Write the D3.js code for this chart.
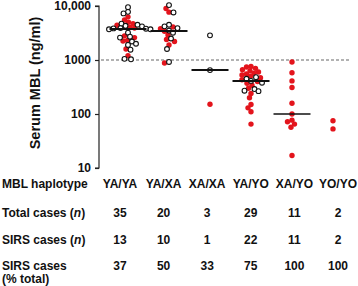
<!DOCTYPE html>
<html>
<head>
<meta charset="utf-8">
<script src="https://cdn.jsdelivr.net/npm/d3@7"></script>
<style>
  html, body { margin: 0; padding: 0; background: #fff; }
  svg { display: block; font-family: "Liberation Sans", Arial, Helvetica, sans-serif; }
</style>
</head>
<body>
<svg id="chart" width="358" height="286"></svg>
<script>
// ---------- data ----------
const categories = ["YA/YA", "YA/XA", "XA/XA", "YA/YO", "XA/YO", "YO/YO"];
// SIRS cases (red filled dots), serum MBL ng/ml
const sirsValues = [
  [6300, 5500, 5000, 4700, 4400, 4000, 3900, 2800, 2600, 2300, 2250, 1600, 1200],
  [9000, 7700, 4100, 3800, 3400, 2900, 2400, 2200, 1900, 880],
  [152],
  [760, 740, 700, 660, 630, 600, 570, 550, 530, 500, 470, 430, 400, 370, 340, 300, 240, 200, 150, 130, 110, 65],
  [920, 580, 410, 310, 158, 100, 77, 72, 65, 57, 17],
  [75, 53]
];
// non-SIRS cases (open circles)
const otherValues = [
  [9500, 7800, 7300, 4700, 4500, 4300, 4200, 3900, 3850, 3800, 3700, 3700, 3200, 2700, 2600, 2200, 2000, 1900, 1550, 1050, 1030],
  [10400, 7600, 4500, 4200, 3900, 3500, 3200, 2500, 1600, 920],
  [2860, 650],
  [480, 450, 410, 380, 290, 270, 265],
  [],
  []
];
const yTicks = [10, 100, 1000, 10000];
const cutoff = 1000;
const totalCases = [35, 20, 3, 29, 11, 2];
const sirsCases = [13, 10, 1, 22, 11, 2];
const sirsPercent = [37, 50, 33, 75, 100, 100];

// ---------- layout ----------
const svg = d3.select("#chart");
const RED = "#e3141c";
const r = 2.7;
const axisX = 99;

const y = d3.scaleLog().domain([10, 10000]).range([168, 6]);
const xDots = d3.scalePoint().domain(categories).range([128, 333]);
const xTable = d3.scalePoint().domain(categories).range([120, 338]);

// y axis
const yAxis = d3.axisLeft(y).tickValues(yTicks).tickSize(4).tickPadding(4)
  .tickFormat(d => d === 10000 ? "10,000" : String(d));
const gy = svg.append("g").attr("transform", `translate(${axisX},0)`).call(yAxis);
gy.select(".domain").attr("stroke", "#222").attr("stroke-width", 1.2).attr("d", `M-4,${y(10000)}H0V${y(10)}H-4`);
gy.selectAll(".tick line").attr("stroke", "#222").attr("stroke-width", 1.2);
gy.selectAll(".tick text").attr("font-size", 12).attr("font-weight", "bold").attr("fill", "#111")
  .attr("font-family", "Liberation Sans, Arial, sans-serif");

// y label
svg.append("text")
  .attr("transform", `translate(40,${(y(10000) + y(10)) / 2 - 4}) rotate(-90)`)
  .attr("text-anchor", "middle")
  .attr("font-size", 14.5).attr("font-weight", "bold").attr("fill", "#111")
  .text("Serum MBL (ng/ml)");

// cutoff dashed line
svg.append("line")
  .attr("x1", axisX + 2).attr("x2", 350)
  .attr("y1", y(cutoff)).attr("y2", y(cutoff))
  .attr("stroke", "#666").attr("stroke-width", 1.2).attr("stroke-dasharray", "3,2");

// beeswarm placement (deterministic, overlapping allowed)
function swarm(points, cx) {
  const d = 1.65 * r;
  const placed = [];
  const sorted = points.slice().sort((a, b) => b.v - a.v);
  sorted.forEach(p => {
    const py = y(p.v);
    let best = 0;
    for (let k = 0; k < 200; k++) {
      const dx = (k % 2 === 0 ? 1 : -1) * Math.ceil(k / 2) * 0.5;
      const ok = placed.every(q => (q.x - (cx + dx)) ** 2 + (q.y - py) ** 2 >= d * d);
      if (ok) { best = dx; break; }
    }
    placed.push({ x: cx + best, y: py, v: p.v, red: p.red });
  });
  return placed;
}

categories.forEach((c, i) => {
  const pts = sirsValues[i].map(v => ({ v, red: true }))
    .concat(otherValues[i].map(v => ({ v, red: false })));
  const placed = swarm(pts, xDots(c));
  const g = svg.append("g");
  g.selectAll("circle.red").data(placed.filter(p => p.red)).join("circle")
    .attr("cx", p => p.x).attr("cy", p => p.y).attr("r", r).attr("fill", RED);
  g.selectAll("circle.open").data(placed.filter(p => !p.red)).join("circle")
    .attr("cx", p => p.x).attr("cy", p => p.y).attr("r", r - 0.3)
    .attr("fill", "#fff").attr("stroke", "#111").attr("stroke-width", 1.1);
  // median line (only for groups with 3 or more cases)
  if (pts.length >= 3) {
    const med = d3.median(pts, p => p.v);
    svg.append("line")
      .attr("x1", xDots(c) - 18.5).attr("x2", xDots(c) + 18.5)
      .attr("y1", y(med)).attr("y2", y(med))
      .attr("stroke", "#111").attr("stroke-width", i === 4 ? 1.4 : 2);
  }
});

// ---------- table ----------
const rowsY = [188, 217, 244, 270];
function rowLabel(yy, parts) {
  const t = svg.append("text").attr("x", 2).attr("y", yy)
    .attr("font-size", 12).attr("font-weight", "bold").attr("fill", "#111");
  parts.forEach(pt => {
    const s = t.append("tspan").text(pt.t);
    if (pt.i) s.attr("font-style", "italic");
  });
}
rowLabel(rowsY[0], [{ t: "MBL haplotype" }]);
rowLabel(rowsY[1], [{ t: "Total cases (" }, { t: "n", i: true }, { t: ")" }]);
rowLabel(rowsY[2], [{ t: "SIRS cases (" }, { t: "n", i: true }, { t: ")" }]);
rowLabel(rowsY[3], [{ t: "SIRS cases" }]);
rowLabel(283, [{ t: "(% total)" }]);

const rows = [categories, totalCases, sirsCases, sirsPercent];
rows.forEach((vals, ri) => {
  svg.append("g").selectAll("text").data(vals).join("text")
    .attr("x", (d, j) => xTable(categories[j]))
    .attr("y", rowsY[ri])
    .attr("text-anchor", "middle")
    .attr("font-size", 12).attr("font-weight", "bold").attr("fill", "#111")
    .text(d => d);
});
</script>
</body>
</html>
